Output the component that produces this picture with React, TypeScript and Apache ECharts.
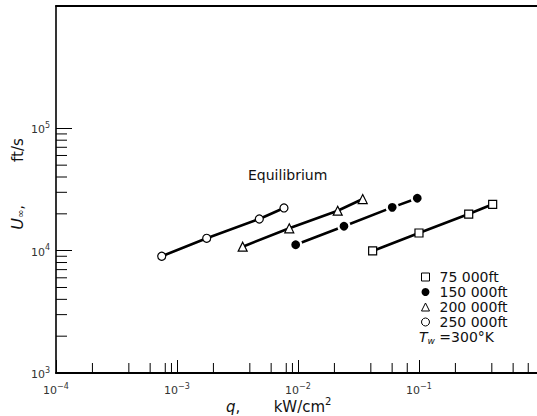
import React, { useEffect, useRef } from "react";
import * as echarts from "echarts";

// Heat flux q (kW/cm^2) and velocity U∞ (ft/s) per altitude
const q75 = [0.0414, 0.1, 0.2576, 0.4065];
const u75 = [9945, 13950, 19930, 23930];
const q150 = [0.00957, 0.02399, 0.0601, 0.0968];
const u150 = [11190, 15820, 22590, 26790];
const q200 = [0.00349, 0.00847, 0.02129, 0.03427];
const u200 = [10780, 15240, 21210, 26420];
const q250 = [0.000748, 0.00176, 0.00479, 0.00766];
const u250 = [9000, 12620, 18150, 22340];

const seriesNames = ["75 000ft", "150 000ft", "200 000ft", "250 000ft"];

// minor tick values drawn inside the axes
const xMinorTicks = [
  2e-4, 4e-4, 6e-4, 8e-4, 9e-4,
  2e-3, 4e-3, 6e-3, 8e-3, 9e-3,
  2e-2, 4e-2, 6e-2, 8e-2,
  2e-1, 4e-1, 6e-1, 8e-1,
];
const yMinorTicks = [
  2000, 3000, 4000, 5000, 6000, 7000, 8000, 9000,
  20000, 30000, 40000, 50000, 60000, 70000, 80000, 90000,
];

const X_MIN = 1e-4;
const X_MAX = 0.945;
const Y_MIN = 1e3;
const Y_MAX = 1e6;

const FONT = "DejaVu Sans";

const zip = (xs: number[], ys: number[]) => xs.map((x, i) => [x, ys[i]]);

const supLabel = (v: number) => {
  const e = Math.log10(v);
  const r = Math.round(e);
  if (Math.abs(e - r) > 1e-6) return "";
  const s = r < 0 ? "\u2212" + Math.abs(r) : String(r);
  return "{b|10}{s|" + s + "}";
};

const labelRich = {
  b: { fontSize: 11, fontFamily: FONT, color: "#333", verticalAlign: "bottom", lineHeight: 14 },
  s: { fontSize: 8, fontFamily: FONT, color: "#333", verticalAlign: "top", lineHeight: 14 },
};

export default function App() {
  const ref = useRef<HTMLDivElement>(null);
  useEffect(() => {
    if (!ref.current) return;
    const chart = echarts.init(ref.current, undefined, { renderer: "svg" });
    const hollow = { color: "#fff", borderColor: "#000", borderWidth: 1.2 };
    const lineStyle = { color: "#000", width: 2.6 };
    const option: any = {
      animation: false,
      backgroundColor: "#fff",
      grid: { left: 56, right: 0, top: 6, bottom: 43 },
      xAxis: [
        {
          type: "log",
          logBase: 10,
          min: X_MIN,
          max: X_MAX,
          interval: 1,
          axisLine: { lineStyle: { color: "#000", width: 2 } },
          axisTick: { inside: true, length: 13, lineStyle: { color: "#000", width: 1 } },
          axisLabel: {
            formatter: supLabel,
            rich: labelRich,
            margin: 9,
            showMaxLabel: false,
          },
          splitLine: { show: false },
        },
        {
          type: "log",
          logBase: 10,
          position: "top",
          min: X_MIN,
          max: X_MAX,
          interval: 1,
          axisLine: { lineStyle: { color: "#000", width: 2 } },
          axisTick: { show: false },
          axisLabel: { show: false },
          splitLine: { show: false },
        },
      ],
      yAxis: {
        type: "log",
        logBase: 10,
        min: Y_MIN,
        max: Y_MAX,
        interval: 1,
        axisLine: { lineStyle: { color: "#000", width: 1.6 } },
        axisTick: { inside: true, length: 16, lineStyle: { color: "#000", width: 1 } },
        axisLabel: {
          formatter: supLabel,
          rich: labelRich,
          margin: 6,
          showMaxLabel: false,
        },
        splitLine: { show: false },
      },
      legend: {
        orient: "vertical",
        left: 421,
        top: 270,
        padding: 0,
        itemWidth: 8,
        itemHeight: 8,
        itemGap: 1,
        textStyle: { fontFamily: FONT, fontSize: 14, color: "#111", lineHeight: 14, padding: [0, 0, 0, 5] },
        data: [
          { name: seriesNames[0], icon: "rect", itemStyle: { color: "#fff", borderColor: "#000", borderWidth: 1 } },
          { name: seriesNames[1], icon: "circle", itemStyle: { color: "#000", borderWidth: 0 } },
          { name: seriesNames[2], icon: "triangle", itemStyle: { color: "#fff", borderColor: "#000", borderWidth: 1 } },
          { name: seriesNames[3], icon: "circle", itemStyle: { color: "#fff", borderColor: "#000", borderWidth: 1 } },
        ],
      },
      graphic: [
        {
          type: "text",
          left: 248,
          top: 168,
          style: { text: "Equilibrium", fontFamily: FONT, fontSize: 14, fill: "#111" },
        },
        {
          type: "text",
          left: 419,
          top: 330,
          style: {
            text: "{i|T}{w|w}{n| =300°K}",
            rich: {
              i: { fontFamily: FONT, fontSize: 14, fontStyle: "italic", fill: "#111", lineHeight: 16 },
              w: { fontFamily: FONT, fontSize: 9, fontStyle: "italic", fill: "#111", verticalAlign: "bottom", lineHeight: 16 },
              n: { fontFamily: FONT, fontSize: 14, fill: "#111", lineHeight: 16 },
            },
          },
        },
        {
          type: "text",
          left: 226,
          top: 396,
          style: {
            text: "{i|q}{n|,       kW/cm}{s|2}",
            rich: {
              i: { fontFamily: FONT, fontSize: 15, fontStyle: "italic", fill: "#111", verticalAlign: "bottom", lineHeight: 18 },
              n: { fontFamily: FONT, fontSize: 15, fill: "#111", verticalAlign: "bottom", lineHeight: 18 },
              s: { fontFamily: FONT, fontSize: 10, fill: "#111", verticalAlign: "top", lineHeight: 18 },
            },
          },
        },
        {
          type: "text",
          x: 16,
          y: 184,
          rotation: Math.PI / 2,
          style: {
            text: "{i|U}{s|∞}{n|,         ft/s}",
            align: "center",
            verticalAlign: "middle",
            rich: {
              i: { fontFamily: FONT, fontSize: 16, fontStyle: "italic", fill: "#111", lineHeight: 18, verticalAlign: "bottom" },
              s: { fontFamily: FONT, fontSize: 10, fill: "#111", lineHeight: 18, verticalAlign: "bottom" },
              n: { fontFamily: FONT, fontSize: 15, fill: "#111", lineHeight: 18, verticalAlign: "bottom" },
            },
          },
        },
      ],
      series: [
        {
          name: seriesNames[0],
          type: "line",
          data: zip(q75, u75),
          symbol: "rect",
          symbolSize: 8,
          itemStyle: hollow,
          lineStyle,
          z: 3,
        },
        {
          name: seriesNames[1],
          type: "line",
          data: zip(q150, u150),
          symbol: "circle",
          symbolSize: 11,
          itemStyle: { color: "#000", borderColor: "#fff", borderWidth: 2.2 },
          lineStyle,
          z: 3,
        },
        {
          name: seriesNames[2],
          type: "line",
          data: zip(q200, u200),
          symbol: "triangle",
          symbolSize: 9,
          itemStyle: hollow,
          lineStyle,
          z: 3,
        },
        {
          name: seriesNames[3],
          type: "line",
          data: zip(q250, u250),
          symbol: "circle",
          symbolSize: 8,
          itemStyle: hollow,
          lineStyle,
          z: 3,
        },
        {
          name: "xMinor",
          type: "custom",
          clip: false,
          silent: true,
          data: xMinorTicks.map((v) => [v, Y_MIN]),
          renderItem: (_p: any, api: any) => {
            const p = api.coord([api.value(0), api.value(1)]);
            return {
              type: "line",
              shape: { x1: p[0], y1: p[1], x2: p[0], y2: p[1] - 10 },
              style: { stroke: "#000", lineWidth: 1 },
            };
          },
          z: 2,
        },
        {
          name: "yMinor",
          type: "custom",
          clip: false,
          silent: true,
          data: yMinorTicks.map((v) => [X_MIN, v]),
          renderItem: (_p: any, api: any) => {
            const p = api.coord([api.value(0), api.value(1)]);
            return {
              type: "line",
              shape: { x1: p[0], y1: p[1], x2: p[0] + 11, y2: p[1] },
              style: { stroke: "#000", lineWidth: 1 },
            };
          },
          z: 2,
        },
      ],
    };
    chart.setOption(option);
    return () => chart.dispose();
  }, []);
  return (
    <div style={{ position: "fixed", left: 0, top: 0, width: 537, height: 416, background: "#fff" }}>
      <div ref={ref} style={{ width: 537, height: 416 }} />
    </div>
  );
}
